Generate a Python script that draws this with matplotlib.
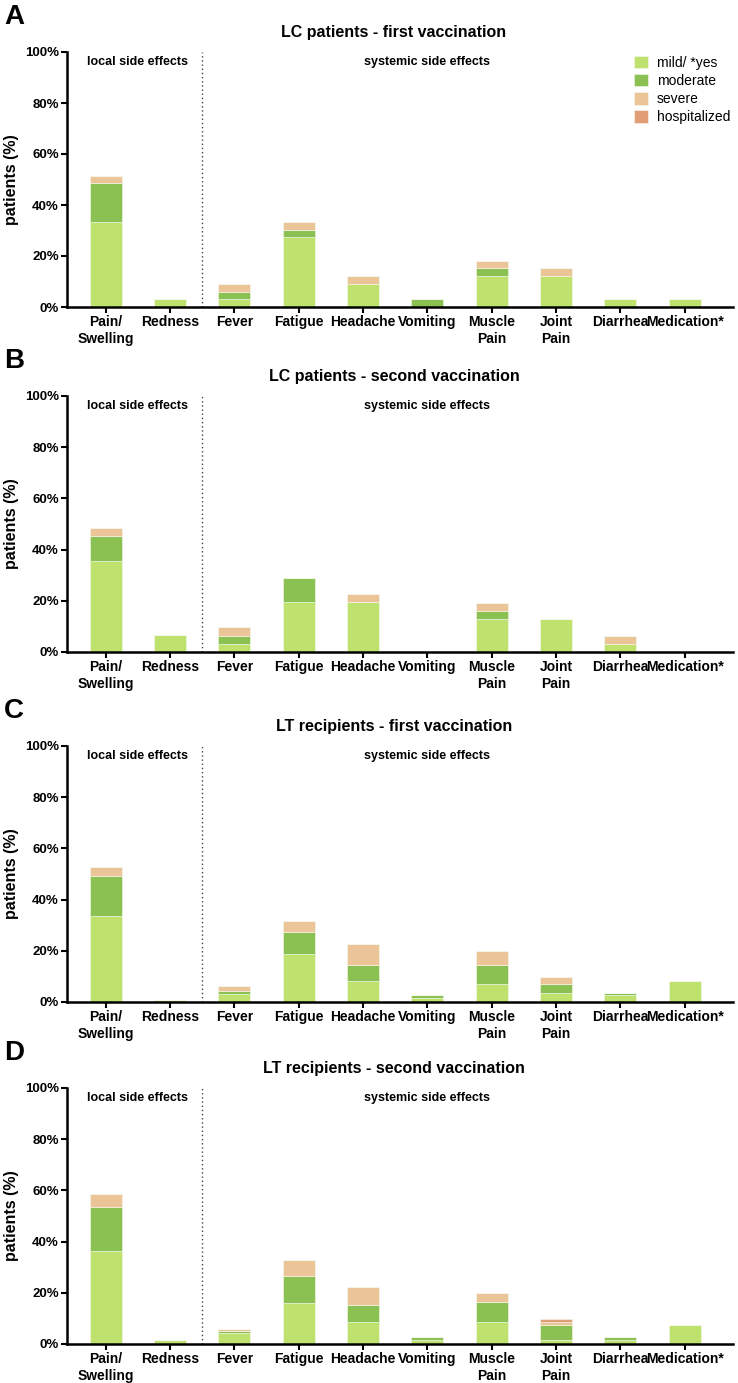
import numpy as np
import matplotlib
matplotlib.use('Agg')
import matplotlib.pyplot as plt

###############################################################################
plt.rcParams['font.family'] = ['Liberation Sans', 'DejaVu Sans']

categories = ['Pain/\nSwelling', 'Redness', 'Fever', 'Fatigue', 'Headache',
              'Vomiting', 'Muscle\nPain', 'Joint\nPain', 'Diarrhea', 'Medication*']
levels = ['mild/ *yes', 'moderate', 'severe', 'hospitalized']
colors = ['#bfe16d', '#8bc152', '#ebc498', '#e29c76']

# A: LC patients - first vaccination (%)
lc1_mild = [33.3, 3.0, 3.0, 27.3, 9.1, 0, 12.1, 12.1, 3.0, 3.0]
lc1_moderate = [15.2, 0, 3.0, 3.0, 0, 3.0, 3.0, 0, 0, 0]
lc1_severe = [3.0, 0, 3.0, 3.0, 3.0, 0, 3.0, 3.0, 0, 0]
lc1_hosp = [0, 0, 0, 0, 0, 0, 0, 0, 0, 0]

# B: LC patients - second vaccination (%)
lc2_mild = [35.5, 6.5, 3.2, 19.4, 19.4, 0, 12.9, 12.9, 3.2, 0]
lc2_moderate = [9.7, 0, 3.2, 9.7, 0, 0, 3.2, 0, 0, 0]
lc2_severe = [3.2, 0, 3.2, 0, 3.2, 0, 3.2, 0, 3.2, 0]
lc2_hosp = [0, 0, 0, 0, 0, 0, 0, 0, 0, 0]

# C: LT recipients - first vaccination (%)
lt1_mild = [33.5, 0.7, 3.3, 18.9, 8.1, 1.6, 7.2, 3.5, 2.6, 8.1]
lt1_moderate = [15.6, 0, 0.9, 8.3, 6.4, 1.0, 7.3, 3.7, 0.8, 0]
lt1_severe = [3.6, 0, 2.1, 4.6, 8.0, 0, 5.4, 2.7, 0, 0]
lt1_hosp = [0, 0, 0, 0, 0, 0, 0, 0, 0, 0]

# D: LT recipients - second vaccination (%)
lt2_mild = [36.5, 1.7, 4.3, 16.2, 8.7, 1.7, 8.7, 1.7, 1.7, 7.5]
lt2_moderate = [17.0, 0, 0.9, 10.5, 6.6, 1.1, 7.7, 5.9, 1.1, 0]
lt2_severe = [5.1, 0, 0.6, 6.0, 6.8, 0, 3.6, 0.8, 0, 0]
lt2_hosp = [0, 0, 0, 0, 0, 0, 0, 1.2, 0, 0]

panels = [
    ('A', 'LC patients - first vaccination', [lc1_mild, lc1_moderate, lc1_severe, lc1_hosp], 52, 307),
    ('B', 'LC patients - second vaccination', [lc2_mild, lc2_moderate, lc2_severe, lc2_hosp], 396, 652),
    ('C', 'LT recipients - first vaccination', [lt1_mild, lt1_moderate, lt1_severe, lt1_hosp], 746, 1002),
    ('D', 'LT recipients - second vaccination', [lt2_mild, lt2_moderate, lt2_severe, lt2_hosp], 1088, 1344),
]
###############################################################################
W, H = 738, 1383
fig = plt.figure(figsize=(W / 100, H / 100), dpi=100)

x = np.arange(len(categories))
left_px, right_px = 67, 733

for idx, (letter, title, series, top_px, bot_px) in enumerate(panels):
    ax = fig.add_axes([left_px / W, 1 - bot_px / H, (right_px - left_px) / W, (bot_px - top_px) / H])
    hpx = bot_px - top_px

    # stacked bars: mild -> moderate -> severe -> hospitalized
    bottom = np.zeros(len(categories))
    for vals, col, lab in zip(series, colors, levels):
        vals = np.array(vals, dtype=float)
        ax.bar(x, vals, width=0.5, bottom=bottom, color=col, label=lab,
               edgecolor='#f6f9ef', linewidth=0.4)
        bottom = bottom + vals

    ax.set_xlim(-0.6, 9.75)
    ax.set_ylim(0, 100)
    ax.set_yticks(np.arange(0, 101, 20))
    ax.set_yticklabels(['%d%%' % v for v in range(0, 101, 20)], fontweight='bold', fontsize=9.5)
    ax.set_xticks(x)
    ax.set_xticklabels(categories, fontweight='bold', fontsize=10, linespacing=1.25)
    ax.tick_params(axis='both', direction='out', length=4, width=1.5, pad=2, color='black')

    for s in ['top', 'right']:
        ax.spines[s].set_visible(False)
    for s in ['left', 'bottom']:
        ax.spines[s].set_linewidth(1.8)

    ax.set_ylabel('patients (%)', fontweight='bold', fontsize=11.5, labelpad=4)

    # local / systemic divider
    ax.axvline(1.5, color='#444444', linestyle=(0, (1, 2)), linewidth=1)
    ax.text(0.5, 1 - 10 / hpx, 'local side effects', transform=ax.get_xaxis_transform(),
            ha='center', va='center', fontweight='bold', fontsize=9)
    ax.text(5.0, 1 - 10 / hpx, 'systemic side effects', transform=ax.get_xaxis_transform(),
            ha='center', va='center', fontweight='bold', fontsize=9)

    ax.text(0.491, 1 + 20 / hpx, title, transform=ax.transAxes, ha='center', va='center',
            fontweight='bold', fontsize=11.5)

    fig.text(14 / W, 1 - (top_px - 35) / H, letter, ha='center', va='center',
             fontweight='bold', fontsize=20)

    if idx == 0:
        ax.legend(loc='upper left', bbox_to_anchor=(0.852, 0.985), frameon=False,
                  fontsize=10, handlelength=1.0, handleheight=1.0, handletextpad=0.6,
                  labelspacing=0.3, borderpad=0, borderaxespad=0)

plt.savefig('out.png', dpi=100)
